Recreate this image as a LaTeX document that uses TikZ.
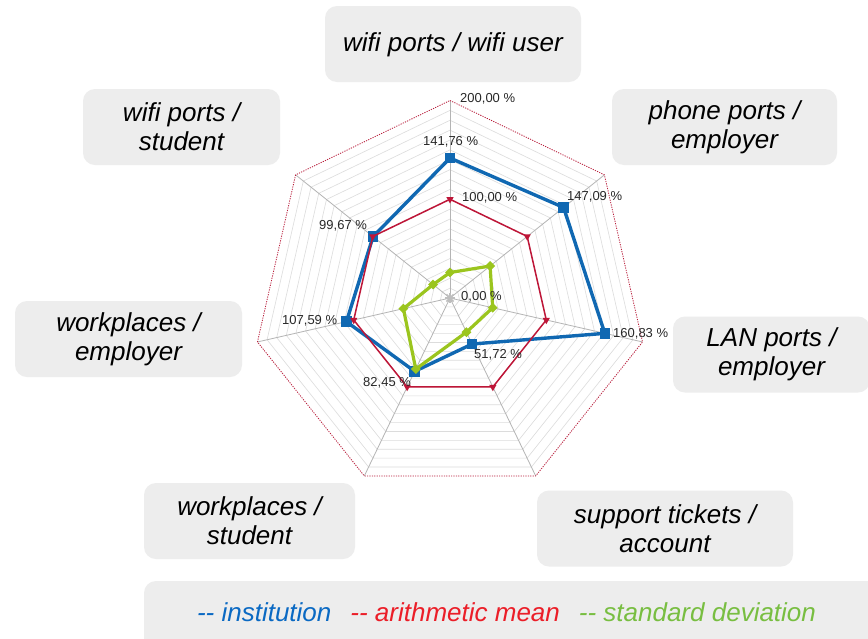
\documentclass[tikz,border=0pt]{standalone}
\usepackage{fontspec}
\setmainfont{Liberation Sans}
\usetikzlibrary{shapes.geometric}
\definecolor{boxgray}{RGB}{237,237,237}
\definecolor{serblue}{RGB}{16,104,178}
\definecolor{serred}{RGB}{190,22,56}
\definecolor{sergreen}{RGB}{155,197,30}
\definecolor{gridgray}{RGB}{220,220,220}
\definecolor{axisgray}{RGB}{180,180,180}
\definecolor{stargray}{RGB}{190,190,190}
\definecolor{labgray}{RGB}{40,40,40}
\definecolor{legblue}{RGB}{10,105,195}
\definecolor{legred}{RGB}{235,30,40}
\definecolor{leggreen}{RGB}{120,190,65}
\definecolor{outerred}{RGB}{185,30,60}
\begin{document}
\begin{tikzpicture}[x=1pt,y=1pt,
  catbox/.style={fill=boxgray, rounded corners=12pt, draw=none, align=center,
    font=\fontsize{26}{29}\selectfont\itshape, text=black, inner sep=0pt, minimum height=76pt},
  datalab/.style={font=\fontsize{13}{15}\selectfont, text=labgray, inner sep=0pt, anchor=west},
  gridline/.style={draw=gridgray, line width=0.6pt},
  axisline/.style={draw=axisgray, line width=0.8pt},
  outerline/.style={draw=outerred, line width=0.8pt, dash pattern=on 1.2pt off 1.2pt},
  blueline/.style={draw=serblue, line width=3.4pt, line join=round},
  redline/.style={draw=serred, line width=1.5pt, line join=round},
  greenline/.style={draw=sergreen, line width=3.2pt, line join=round},
  bluesq/.style={rectangle, fill=serblue, minimum size=10.5pt, inner sep=0pt},
  redtri/.style={regular polygon, regular polygon sides=3, shape border rotate=180, fill=serred, minimum size=8.5pt, inner sep=0pt},
  grdia/.style={diamond, fill=sergreen, minimum size=10pt, inner sep=0pt},
  legtext/.style={font=\fontsize{26}{29}\selectfont\itshape, inner sep=0pt}
]
\clip (0,0) rectangle (868,-638);
\fill[white] (0,0) rectangle (868,-638);

% category boxes
\node[catbox, minimum width=256pt] (box0) at (453,-44) {\raisebox{-7.5pt}[0pt][0pt]{wifi ports / wifi user}};
\node[catbox, minimum width=225pt] (box1) at (724.5,-127) {phone ports /\\employer};
\node[catbox, minimum width=197pt] (box2) at (771.5,-354.5) {LAN ports /\\employer};
\node[catbox, minimum width=256pt] (box3) at (665,-528.5) {support tickets /\\account};
\node[catbox, minimum width=211pt] (box4) at (249.5,-521) {workplaces /\\student};
\node[catbox, minimum width=227pt] (box5) at (128.5,-339) {workplaces /\\employer};
\node[catbox, minimum width=197pt] (box6) at (181.5,-127) {wifi ports /\\student};

% legend
\fill[boxgray, rounded corners=12pt] (144,-581) rectangle (890,-660);
\node[legtext] (legend) at (506.5,-612) {\textcolor{legblue}{-\kern0pt- institution}\hspace{19pt}\textcolor{legred}{-\kern0pt- arithmetic mean}\hspace{19pt}\textcolor{leggreen}{-\kern0pt- standard deviation}};

\begin{scope}[shift={(450,-298)}]
  % grid rings
  \foreach \i in {1,...,19} {
    \draw[gridline] (90:{\i*9.875}) \foreach \k in {1,...,6} { -- ({90-\k*360/7}:{\i*9.875}) } -- cycle;
  }
  % axes
  \foreach \k in {0,...,6} {
    \draw[axisline] (0,0) -- ({90-\k*360/7}:197.5);
  }
  % outer ring
  \draw[outerline] (90:197.5) \foreach \k in {1,...,6} { -- ({90-\k*360/7}:197.5) } -- cycle;

  % institution
  \foreach \k/\v in {0/141.76,1/147.09,2/160.83,3/51.72,4/82.45,5/107.59,6/99.67} {
    \coordinate (b\k) at ({90-\k*360/7}:{\v*0.9875});
  }
  % mean
  \foreach \k in {0,...,6} {
    \coordinate (r\k) at ({90-\k*360/7}:98.75);
  }
  % standard deviation (radii in px)
  \foreach \k/\v in {0/25.5,1/51.3,2/43.8,3/37.9,4/78.9,5/47.8,6/21.6} {
    \coordinate (g\k) at ({90-\k*360/7}:{\v});
  }
  \draw[blueline] (b0) -- (b1) -- (b2) -- (b3) -- (b4) -- (b5) -- (b6) -- cycle;
  \foreach \k in {0,...,6} { \node[bluesq] (mb\k) at (b\k) {}; }
  \draw[redline] (r0) -- (r1) -- (r2) -- (r3) -- (r4) -- (r5) -- (r6) -- cycle;
  \foreach \k in {0,...,6} { \node[redtri] (mr\k) at (r\k) {}; }
  \draw[greenline] (g0) -- (g1) -- (g2) -- (g3) -- (g4) -- (g5) -- (g6) -- cycle;
  \foreach \k in {0,...,6} { \node[grdia] (mg\k) at (g\k) {}; }

  % zero marker
  \node[inner sep=0pt, minimum size=10pt] (zero) at (0,0) {};
  \foreach \a in {0,45,90,135} {
    \draw[draw=stargray, line width=1.6pt] (zero.center) -- ++(\a:5);
    \draw[draw=stargray, line width=1.6pt] (zero.center) -- ++(\a+180:5);
  }
\end{scope}

% data labels
\node[datalab] (l200) at (460,-99) {200,00 \%};
\node[datalab] (l141) at (423,-142) {141,76 \%};
\node[datalab] (l100) at (462,-198) {100,00 \%};
\node[datalab] (l147) at (567,-197) {147,09 \%};
\node[datalab] (l99) at (319,-226) {99,67 \%};
\node[datalab] (l0) at (461,-297) {0,00 \%};
\node[datalab] (l107) at (282,-321) {107,59 \%};
\node[datalab] (l160) at (613,-333.5) {160,83 \%};
\node[datalab] (l51) at (474,-355) {51,72 \%};
\node[datalab] (l82) at (363,-383) {82,45 \%};
\end{tikzpicture}
\end{document}
